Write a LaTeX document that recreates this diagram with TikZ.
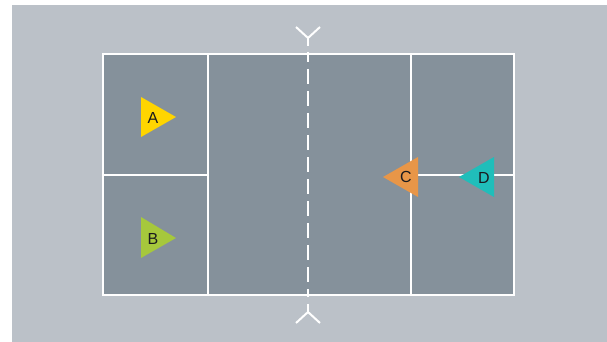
\documentclass[tikz,border=0pt]{standalone}
\usepackage{fontspec}
\setmainfont{Liberation Sans}
\definecolor{bggray}{RGB}{187,193,200}
\definecolor{courtgray}{RGB}{133,145,155}
\definecolor{pyellow}{RGB}{255,213,0}
\definecolor{pgreen}{RGB}{166,200,60}
\definecolor{porange}{RGB}{232,150,72}
\definecolor{pteal}{RGB}{32,190,186}
\definecolor{ink}{RGB}{26,26,30}
\begin{document}
\begin{tikzpicture}[x=1pt,y=-1pt,
  courtline/.style={draw=white,line width=2pt},
  markline/.style={draw=white,line width=2pt,line cap=butt},
  label/.style={text=ink,font=\fontsize{16}{16}\selectfont,inner sep=0pt}]
\useasboundingbox (0,0) rectangle (607,342);
\fill[white] (0,0) rectangle (607,342);
\fill[bggray] (12,5) rectangle (607,342);
% court
\fill[courtgray] (103,54) rectangle (514,295);
\coordinate (tl) at (103,54);
\coordinate (br) at (514,295);
\draw[courtline] (208,54) -- (208,295);
\draw[courtline] (411,54) -- (411,295);
\draw[courtline] (103,175) -- (208,175);
\draw[courtline] (411,175) -- (514,175);
\draw[courtline] (tl) rectangle (br);
% centre dashed line
\draw[markline,dash pattern=on 15pt off 7pt,dash phase=5pt] (308,52) -- (308,297);
% net marks
\coordinate (ts) at (308,38);
\draw[markline] (296,27) -- (ts) -- (320,27);
\draw[markline] (ts) -- (308,46);
\coordinate (bs) at (308,312);
\draw[markline] (296,323) -- (bs) -- (320,323);
\draw[markline] (bs) -- (308,304);
% players
\fill[pyellow] (141,97) -- (141,137) -- (176,117) -- cycle;
\node[label] (a) at (153,118) {A};
\fill[pgreen] (141,217) -- (141,258) -- (176,238) -- cycle;
\node[label] (b) at (153,239) {B};
\fill[porange] (418,157) -- (418,197) -- (383,177) -- cycle;
\node[label] (c) at (406,177) {C};
\fill[pteal] (494,157) -- (494,197) -- (459,177) -- cycle;
\node[label] (d) at (484,178) {D};
\end{tikzpicture}
\end{document}
